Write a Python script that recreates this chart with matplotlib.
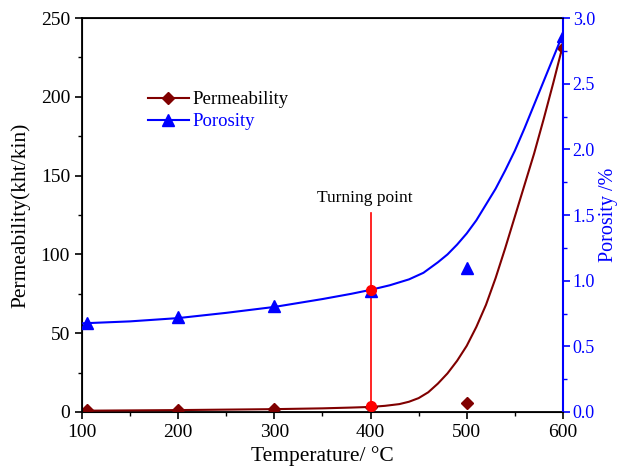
#!/usr/bin/env python3
# Permeabilidad y porosidad frente a temperatura (doble eje).

import matplotlib
matplotlib.use("Agg")
import matplotlib.pyplot as plt
from matplotlib.ticker import MultipleLocator

plt.rcParams["font.family"] = ["Liberation Serif", "DejaVu Serif"]

ROJO = "#800000"
AZUL = "#0000FF"

# Puntos medidos
temp_pts  = [105, 200, 300, 400, 500, 600]
perm_pts  = [1.0, 1.0, 2.0, 3.0, 6.0, 231]
poros_pts = [0.68, 0.72, 0.81, 0.92, 1.10, 2.86]

# Curvas de ajuste
temp_fit_perm = [100, 150, 200, 250, 300, 350, 380, 400, 415, 430, 440, 450,
                 460, 470, 480, 490, 500, 510, 520, 530, 540, 550, 560, 570,
                 580, 590, 600]
perm_fit      = [0.8, 1.0, 1.2, 1.5, 1.8, 2.3, 2.8, 3.2, 3.9, 5.0, 6.5, 8.8,
                 12.5, 18, 24.5, 32.5, 42, 54, 68, 85, 104, 124, 144, 164,
                 186, 209, 233]

temp_fit_por = [100, 150, 200, 250, 300, 350, 380, 400, 420, 440, 455, 470,
                480, 490, 500, 510, 520, 530, 540, 550, 560, 570, 580, 590, 600]
poros_fit    = [0.675, 0.69, 0.715, 0.755, 0.80, 0.86, 0.90, 0.93, 0.965, 1.01,
                1.06, 1.14, 1.20, 1.275, 1.36, 1.46, 1.58, 1.70, 1.84, 1.99,
                2.16, 2.34, 2.52, 2.70, 2.88]

# Punto de inflexion
t_giro     = 400
perm_giro  = 3.5
poros_giro = 0.93
perm_linea = 126

fig = plt.figure(figsize=(6.2, 4.76), dpi=100)
ax1 = fig.add_axes([0.132, 0.1345, 0.776, 0.8275])
ax2 = ax1.twinx()

ax1.plot(temp_fit_perm, perm_fit, color=ROJO, lw=1.5, zorder=3)
ax1.plot(temp_pts, perm_pts, "D", color=ROJO, ms=6.5, zorder=4)
ax2.plot(temp_fit_por, poros_fit, color=AZUL, lw=1.5, zorder=3)
ax2.plot(temp_pts, poros_pts, "^", color=AZUL, ms=8, zorder=4)

# linea vertical y marcas rojas del punto de giro
ax1.plot([t_giro, t_giro], [perm_giro, perm_linea], color="red", lw=1.2, zorder=5)
ax1.plot([t_giro], [perm_giro], "o", color="red", ms=7, zorder=6)
ax2.plot([t_giro], [poros_giro], "o", color="red", ms=7, zorder=6)
ax1.text(t_giro - 6, 136, "Turning point", ha="center", va="center", fontsize=12.5)

# leyenda manual
ax1.plot([], [], "-D", color=ROJO, ms=6.5, label="Permeability")
ax1.plot([], [], "-^", color=AZUL, ms=8, label="Porosity")
h, l = ax1.get_legend_handles_labels()
ley = ax1.legend(h[-2:], l[-2:], loc="center left", bbox_to_anchor=(0.137, 0.765),
                 frameon=False, fontsize=13.5, handlelength=2.2, borderpad=0,
                 borderaxespad=0, handletextpad=0.2, labelspacing=0.25)
ley.get_texts()[1].set_color(AZUL)

ax1.set_xlim(100, 600)
ax1.set_ylim(0, 250)
ax2.set_ylim(0, 3.0)

ax1.xaxis.set_major_locator(MultipleLocator(100))
ax1.xaxis.set_minor_locator(MultipleLocator(50))
ax1.yaxis.set_major_locator(MultipleLocator(50))
ax1.yaxis.set_minor_locator(MultipleLocator(25))
ax2.yaxis.set_major_locator(MultipleLocator(0.5))
ax2.yaxis.set_minor_locator(MultipleLocator(0.25))
ax2.yaxis.set_major_formatter(plt.FormatStrFormatter("%.1f"))

ax1.tick_params(which="major", direction="out", length=5, width=1.2, labelsize=14)
ax1.tick_params(which="minor", direction="out", length=3, width=1.0)
ax1.tick_params(axis="x", top=False, which="both")
ax2.tick_params(which="major", direction="out", length=5, width=1.2,
                labelsize=13, colors=AZUL, pad=2)
ax2.tick_params(which="minor", direction="out", length=3, width=1.0, colors=AZUL)

for s in ["left", "bottom", "top"]:
    ax1.spines[s].set_linewidth(1.3)
ax2.spines["right"].set_color(AZUL)
ax2.spines["right"].set_linewidth(1.5)
ax1.spines["right"].set_visible(False)

ax1.set_xlabel("Temperature/ \u00b0C", fontsize=15.5, labelpad=4)
ax1.set_ylabel("Permeability(kht/kin)", fontsize=15.5, labelpad=7)
ax2.set_ylabel("Porosity /%", fontsize=14.5, color=AZUL, labelpad=3)

fig.savefig("out.png", dpi=100)
plt.close(fig)
